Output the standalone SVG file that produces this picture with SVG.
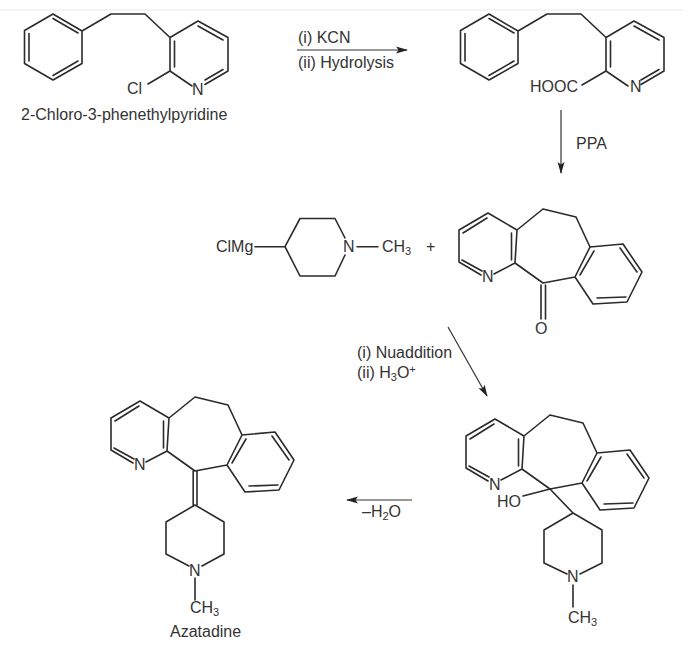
<svg xmlns="http://www.w3.org/2000/svg" xmlns:xlink="http://www.w3.org/1999/xlink" width="696" height="654" viewBox="0 0 696 654">
<style>
.b{fill:none;stroke:#2b2b2b;stroke-width:1.6;stroke-linejoin:round;stroke-linecap:round}
.a{fill:none;stroke:#333;stroke-width:1.2}
text{font-family:"Liberation Sans",Arial,sans-serif;font-size:16px;fill:#333}
.s{font-size:11px}
</style>
<defs>
<marker id="ah" viewBox="0 0 12 8" refX="11" refY="4" markerWidth="12" markerHeight="8" markerUnits="userSpaceOnUse" orient="auto"><path d="M0,0.5 L12,4 L0,7.5 L2.5,4 Z" fill="#222"/></marker>
<g id="phenpy">
<path class="b" d="M53,14 L82,31 L82,63.500 L53,80 L24.500,63.500 L24.500,30.500 Z M29,33.500 V61 M53,18.500 L78,33 M53,75.500 L78,61 M82,31 L111,14 H145 L170,37.500 L198,21 L228,37.500 V71 L205,84.500 M192,86 L170,71 V37.500 M174.500,41 V67 M198,26 L223,40 M223,69.500 L205,80"/>
</g>
<g id="tri">
<path class="b" d="M494,274 L515,263 L517,230 L488,213 L459,230 V262 L481,275 M511.500,233 V260 M463,233 L487,218 M462,260 L482,271 M517,230 L543,209 L576,217 L590,247 L623,244 L642,272 L627,302 L593,304 L575,277 L590,247 M575,277 L543,283 L515,263 M594,251 L580,275 M620,248 L637,272 M597,298 L626,297"/>
</g>
</defs>
<rect id="band" x="0" y="9" width="683" height="2" fill="#f4f4f4"/>
<g id="connectors">
<path class="a" marker-end="url(#ah)" d="M297,50 H407"/>
<path class="a" marker-end="url(#ah)" d="M561,110 V173"/>
<path class="a" marker-end="url(#ah)" d="M448,327 L487,396"/>
<path class="a" marker-end="url(#ah)" d="M412,500 H347"/>
</g>
<g id="labels">
<text x="298" y="43">(i) KCN</text>
<text x="298" y="68">(ii) Hydrolysis</text>
<text x="576" y="149">PPA</text>
<text x="357" y="358">(i) Nuaddition</text>
<text x="357" y="378">(ii) H<tspan class="s" dy="3">3</tspan><tspan dy="-3">O</tspan><tspan class="s" dy="-5">+</tspan></text>
<text x="362" y="517">–H<tspan class="s" dy="3">2</tspan><tspan dy="-3">O</tspan></text>
<text x="426" y="252">+</text>
</g>
<g id="chloropyridine">
<use xlink:href="#phenpy" href="#phenpy"/>
<path class="b" d="M170,71 L148,84"/>
<text x="127" y="94">Cl</text>
<text x="192" y="95">N</text>
<text x="21" y="120">2-Chloro-3-phenethylpyridine</text>
</g>
<g id="picolinic-acid">
<use xlink:href="#phenpy" href="#phenpy" x="436"/>
<path class="b" d="M606,71 L582,85"/>
<text x="530" y="92">HOOC</text>
<text x="630" y="92">N</text>
</g>
<g id="grignard">
<path class="b" d="M255,246.700 H285 L300,218.500 H335 L345,238 M345,255 L335,276 H300 L285,246.700 M357,246.700 H378"/>
<text x="216" y="252">ClMg</text>
<text x="343" y="252">N</text>
<text x="382" y="252">CH<tspan class="s" dy="3">3</tspan></text>
</g>
<g id="ketone">
<use xlink:href="#tri" href="#tri"/>
<path class="b" d="M541,285 V319 M545.500,285 V319"/>
<text x="482" y="282">N</text>
<text x="535" y="334">O</text>
</g>
<g id="alcohol">
<use xlink:href="#tri" href="#tri" x="7" y="206"/>
<path class="b" d="M550,489 L523,496 M550,489 L573,513 L602,530 V563 L580,574 M567,574 L544,563 V530 L573,513 M573,585 V607"/>
<text x="489" y="490">N</text>
<text x="497" y="507">HO</text>
<text x="567" y="582">N</text>
<text x="568" y="623">CH<tspan class="s" dy="3">3</tspan></text>
</g>
<g id="azatadine">
<use xlink:href="#tri" href="#tri" x="-348" y="188"/>
<path class="b" d="M193.200,471 V505 M197,471 V505 M195,505 L224,522 V554 L202,566 M189,566 L166,554 V522 L195,505 M195,578 V600"/>
<text x="134" y="470">N</text>
<text x="189" y="576">N</text>
<text x="190" y="613">CH<tspan class="s" dy="3">3</tspan></text>
<text x="170" y="637">Azatadine</text>
</g>
</svg>
